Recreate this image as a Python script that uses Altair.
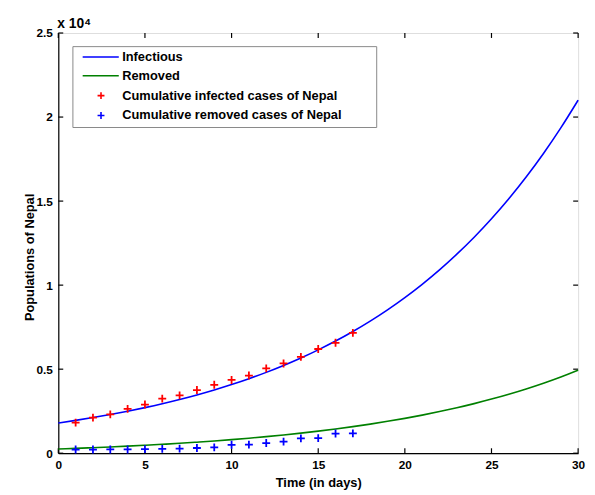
import altair as alt
import pandas as pd

# ---- data ----
t_days = list(range(31))
infectious = [1800, 1954, 2120, 2301, 2498, 2711, 2942, 3194, 3466, 3762, 4083,
              4432, 4810, 5220, 5666, 6149, 6674, 7244, 7862, 8533, 9261,
              10052, 10910, 11841, 12851, 13948, 15139, 16431, 17833, 19355, 21007]
removed = [250, 288, 328, 372, 420, 472, 529, 590, 657, 729, 808,
           893, 986, 1086, 1195, 1313, 1441, 1580, 1732, 1896, 2073,
           2267, 2476, 2704, 2951, 3219, 3510, 3826, 4168, 4540, 4944]
obs_days = list(range(1, 18))
infected_cases = [1820, 2120, 2310, 2640, 2895, 3245, 3440, 3760, 4070, 4360,
                  4620, 5050, 5340, 5730, 6200, 6570, 7160]
removed_cases = [220, 220, 225, 225, 240, 260, 270, 310, 350, 500,
                 510, 605, 690, 880, 900, 1170, 1180]

series_names = ["Infectious", "Removed",
                "Cumulative infected cases of Nepal",
                "Cumulative removed cases of Nepal"]
series_colors = ["#0000FF", "#008000", "#FF0000", "#0000FF"]
LINE_SYM = "M-0.17,0H10.29"
PLUS_SYM = "M4.14,0H6.14M5.14,-1V1"
series_shapes = [LINE_SYM, LINE_SYM, PLUS_SYM, PLUS_SYM]
x_ticks = [0, 5, 10, 15, 20, 25, 30]
y_ticks = [0, 5000, 10000, 15000, 20000, 25000]

lines_df = pd.DataFrame({
    "t": t_days * 2,
    "v": infectious + removed,
    "series": [series_names[0]] * len(t_days) + [series_names[1]] * len(t_days),
})
pts_df = pd.DataFrame({
    "t": obs_days * 2,
    "v": infected_cases + removed_cases,
    "series": [series_names[2]] * len(obs_days) + [series_names[3]] * len(obs_days),
})
xt_df = pd.DataFrame({"t": x_ticks})
yt_df = pd.DataFrame({"v": y_ticks})

W, H = 527, 426
FONT = "Liberation Sans"
# blank (non-whitespace) glyphs so the legend box is as wide as the reference's
PAD = "\u2800" * 3

xscale = alt.Scale(domain=[0, 30], nice=False, zero=False)
yscale = alt.Scale(domain=[0, 25000], nice=False)
cscale = alt.Scale(domain=series_names, range=series_colors)
sscale = alt.Scale(domain=series_names, range=series_shapes)

xaxis = alt.Axis(values=x_ticks, ticks=False, tickSize=0, grid=False, title="Time (in days)",
                 labelPadding=6, labelFontSize=12, labelFontWeight="bold", labelFont=FONT,
                 titleFontSize=13, titleFontWeight="bold", titleFont=FONT,
                 titleY=34, titleBaseline="alphabetic", labelBound=False, labelFlush=False,
                 labelOverlap=False, domainColor="#000", domainWidth=1.2, labelColor="#000",
                 titleColor="#000")
yaxis = alt.Axis(values=y_ticks, ticks=False, tickSize=0, grid=False, title="Populations of Nepal",
                 labelExpr="'' + datum.value / 10000",
                 labelPadding=6, labelFontSize=12, labelFontWeight="bold", labelFont=FONT,
                 titleFontSize=13, titleFontWeight="bold", titleFont=FONT,
                 titleX=-25, titleY=227, titleBaseline="alphabetic", titleAngle=-90,
                 labelBound=False, labelFlush=False, labelOverlap=False,
                 domainColor="#000", domainWidth=1.2, labelColor="#000", titleColor="#000")

legend = alt.Legend(
    title=None, orient="none", legendX=14.3, legendY=13.3, padding=4.5,
    fillColor="white", strokeColor="#888", labelFont=FONT, labelFontSize=13,
    labelFontWeight="bold", labelColor="#000", symbolSize=49, labelOffset=33,
    rowPadding=5.1, labelExpr="datum.label + '" + PAD + "'", labelLimit=500,
    symbolStrokeWidth=1.6, symbolOpacity=1,
)

lines = alt.Chart(lines_df).mark_line(strokeWidth=1.6, interpolate="monotone").encode(
    x=alt.X("t:Q", scale=xscale, axis=xaxis),
    y=alt.Y("v:Q", scale=yscale, axis=yaxis),
    color=alt.Color("series:N", scale=cscale, legend=legend, sort=series_names),
)

# plus path is drawn offset inside the symbol box; xOffset re-centres it on the data
points = alt.Chart(pts_df).mark_point(filled=False, size=64, strokeWidth=1.8,
                                       opacity=1, xOffset=-20.56).encode(
    x=alt.X("t:Q", scale=xscale),
    y=alt.Y("v:Q", scale=yscale),
    color=alt.Color("series:N", scale=cscale, legend=legend, sort=series_names),
    shape=alt.Shape("series:N", scale=sscale, legend=legend, sort=series_names),
)

tick_style = dict(color="#000", strokeWidth=1.2)
xt_bottom = alt.Chart(xt_df).mark_rule(**tick_style).encode(
    x=alt.X("t:Q", scale=xscale), y=alt.value(H), y2=alt.value(H - 5))
xt_top = alt.Chart(xt_df).mark_rule(**tick_style).encode(
    x=alt.X("t:Q", scale=xscale), y=alt.value(0), y2=alt.value(5))
yt_left = alt.Chart(yt_df).mark_rule(**tick_style).encode(
    y=alt.Y("v:Q", scale=yscale), x=alt.value(0), x2=alt.value(5))
yt_right = alt.Chart(yt_df).mark_rule(**tick_style).encode(
    y=alt.Y("v:Q", scale=yscale), x=alt.value(W), x2=alt.value(W - 5))

chart = alt.layer(xt_bottom, xt_top, yt_left, yt_right, lines, points).properties(
    width=W, height=H,
    title=alt.TitleParams("x 10\u2074", anchor="start", frame="group", font=FONT,
                          fontSize=14, fontWeight="bold", color="#000",
                          baseline="alphabetic", offset=6, dx=-1, dy=21),
    autosize=alt.AutoSizeParams(type="none"),
    padding={"left": 51, "top": 22, "right": 9, "bottom": 39},
).configure_view(stroke="#000", strokeWidth=1.2).configure(background="white")

chart.save("out.html", embed_options={"renderer": "svg", "actions": False})
